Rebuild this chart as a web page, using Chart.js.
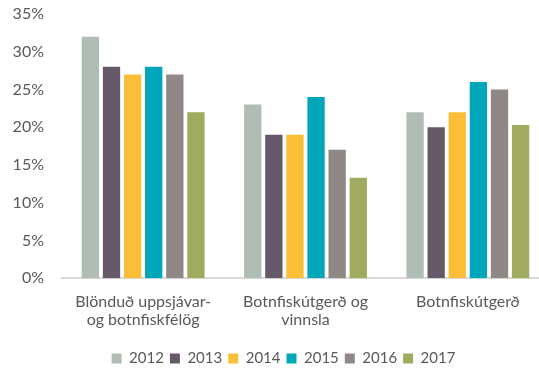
<!DOCTYPE html>
<html>
<head>
<meta charset="utf-8">
<script src="https://cdn.jsdelivr.net/npm/chart.js@4"></script>
<style>
    html, body { margin: 0; padding: 0; background: #fff; overflow: hidden; }
    #wrap { position: relative; width: 549px; height: 368px; }
</style>
</head>
<body>
<div id="wrap"><canvas id="hlutfallChart"></canvas></div>
<script>
// Flokkar fyrirtækja og ár
const categories = [
    ['Blönduð uppsjávar-', 'og botnfiskfélög'],
    ['Botnfiskútgerð og', 'vinnsla'],
    'Botnfiskútgerð'
];
const years = ['2012', '2013', '2014', '2015', '2016', '2017'];

// Hlutfall (%) eftir árum, einn listi fyrir hvert ár
const v2012 = [32, 23, 22];
const v2013 = [28, 19, 20];
const v2014 = [27, 19, 22];
const v2015 = [28, 24, 26];
const v2016 = [27, 17, 25];
const v2017 = [22, 13.3, 20.3];

const yTicks = [0, 5, 10, 15, 20, 25, 30, 35];

const colors = ['#B0BDB5', '#66596A', '#FBBF37', '#00A6B9', '#908787', '#A1AB5F'];
const seriesValues = [v2012, v2013, v2014, v2015, v2016, v2017];

const textColor = '#595959';
const fontFamily = 'Lato, "Open Sans", sans-serif';

const datasets = years.map(function(year, i) {
    return {
        label: year,
        data: seriesValues[i],
        backgroundColor: colors[i],
        borderWidth: 0,
        barPercentage: 0.82,
        categoryPercentage: 0.78
    };
});

// færir skýringarnar aðeins til hægri
const legendShift = {
    id: 'legendShift',
    afterLayout: function(chart) {
        chart.legend.left += 9;
        chart.legend.right += 9;
    }
};

new Chart(document.getElementById('hlutfallChart').getContext('2d'), {
    type: 'bar',
    data: {
        labels: categories,
        datasets: datasets
    },
    options: {
        responsive: true,
        maintainAspectRatio: false,
        animation: false,
        layout: {
            padding: { top: 14, left: 0, right: 0, bottom: -8 }
        },
        plugins: {
            legend: {
                position: 'bottom',
                labels: {
                    boxWidth: 10,
                    boxHeight: 10,
                    padding: 6,
                    color: textColor,
                    font: { family: fontFamily, size: 15 }
                }
            },
            tooltip: { enabled: false }
        },
        scales: {
            x: {
                grid: { display: false },
                border: { color: '#D9D9D9', width: 2 },
                afterFit: function(scale) {
                    scale.height += 10;
                },
                ticks: {
                    color: textColor,
                    padding: 6,
                    maxRotation: 0,
                    font: { family: fontFamily, size: 16, lineHeight: 1.15 }
                }
            },
            y: {
                min: 0,
                max: 35,
                grid: { display: false },
                border: { display: false },
                afterFit: function(scale) {
                    scale.width = 62;
                    scale.paddingTop = 0;
                    scale.paddingBottom = 0;
                },
                afterBuildTicks: function(scale) {
                    scale.ticks = yTicks.map(v => ({ value: v }));
                },
                ticks: {
                    color: textColor,
                    padding: 10,
                    font: { family: fontFamily, size: 16 },
                    callback: function(value) {
                        return value + '%';
                    }
                }
            }
        }
    },
    plugins: [legendShift]
});
</script>
</body>
</html>
